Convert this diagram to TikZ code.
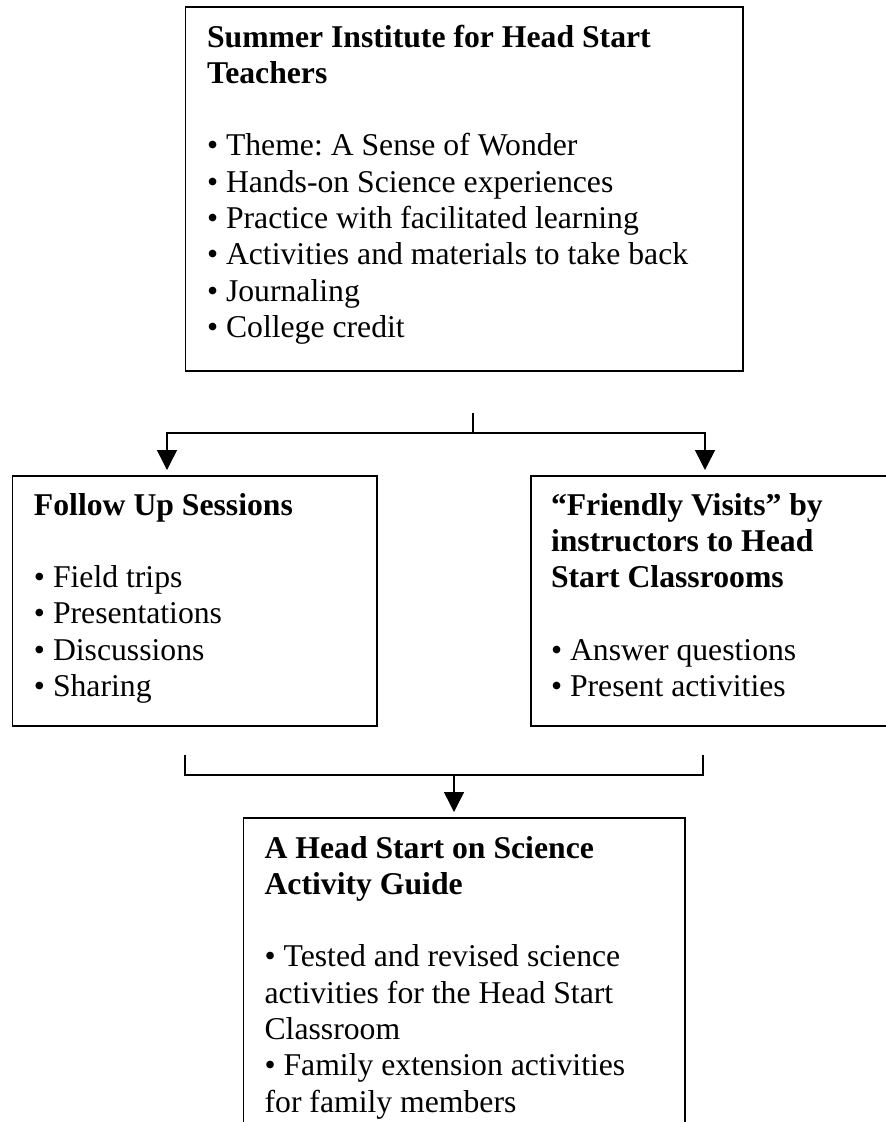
\documentclass[tikz,border=0pt]{standalone}
\usepackage{fontspec}
\setmainfont{Liberation Serif}
\usetikzlibrary{arrows.meta}
\frenchspacing
\begin{document}
\begin{tikzpicture}[x=1pt,y=-1pt,
  box/.style={draw,line width=1.5pt,inner sep=0pt,outer sep=0pt,anchor=north west},
  txt/.style={anchor=base west,inner sep=0pt,outer sep=0pt,font=\fontsize{31.7}{36.3}\selectfont},
  conn/.style={line width=1.5pt},
  arr/.style={conn,-{Triangle[width=20pt,length=20pt]}}]
\useasboundingbox (0,0) rectangle (886,1122);
\clip (0,0) rectangle (886,1122);
% boxes
\node[box,minimum width=557.5pt,minimum height=364pt] (topbox) at (185.5,7) {};
\node[box,minimum width=364.6pt,minimum height=250pt] (leftbox) at (12.4,476) {};
\node[box,minimum width=380pt,minimum height=250pt] (rightbox) at (531,476) {};
\node[box,minimum width=441.4pt,minimum height=340pt] (botbox) at (243.6,818) {};
% texts
\node[txt] (toptext) at (207,47) {\parbox[t]{600pt}{\frenchspacing\bfseries Summer Institute for Head Start\\
Teachers\\[36.3pt]\mdseries
• Theme: A Sense of Wonder\\
• Hands-on Science experiences\\
• Practice with facilitated learning\\
• Activities and materials to take back\\
• Journaling\\
• College credit}};
\node[txt] (lefttext) at (34,515) {\parbox[t]{340pt}{\bfseries Follow Up Sessions\\[36.3pt]\mdseries
• Field trips\\
• Presentations\\
• Discussions\\
• Sharing}};
\node[txt] (righttext) at (551,515) {\parbox[t]{340pt}{\bfseries “Friendly Visits” by\\
instructors to Head\\
Start Classrooms\\[36.3pt]\mdseries
• Answer questions\\
• Present activities}};
\node[txt] (bottext) at (264.6,858) {\parbox[t]{440pt}{\bfseries A Head Start on Science\\
Activity Guide\\[36.3pt]\mdseries
• Tested and revised science\\
activities for the Head Start\\
Classroom\\
• Family extension activities\\
for family members}};
% connectors
\coordinate (st) at (473,413);
\coordinate (sj) at (473,433);
\coordinate (la) at (167,470);
\coordinate (ra) at (705,470);
\draw[conn] (st) -- (sj);
\draw[arr] (sj) -| (la);
\draw[arr] (sj) -| (ra);
\coordinate (lb) at (185,755);
\coordinate (rb) at (703,755);
\coordinate (mj) at (454,775);
\coordinate (ba) at (454,812);
\draw[conn] (lb) |- (rb |- mj) -- (rb);
\draw[arr] (mj) -- (ba);
\end{tikzpicture}
\end{document}
